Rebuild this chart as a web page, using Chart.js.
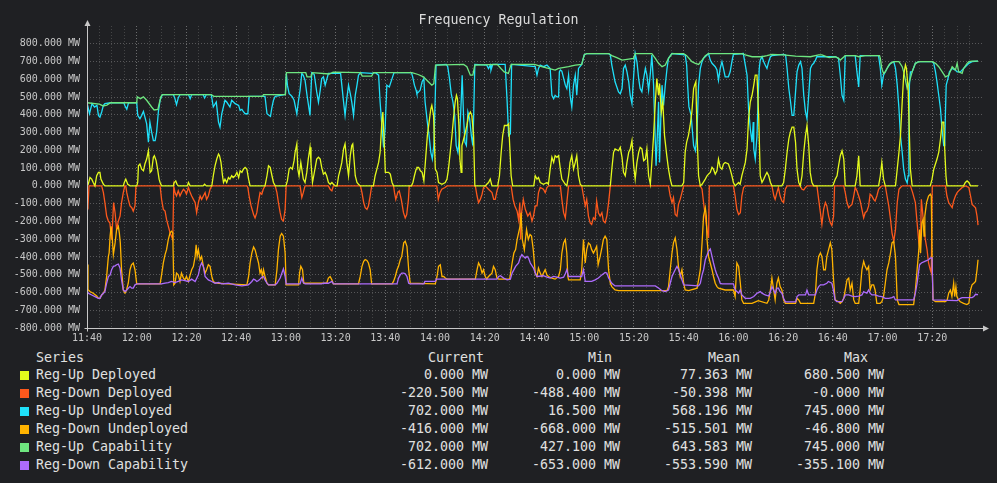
<!DOCTYPE html>
<html>
<head>
<meta charset="utf-8">
<script src="https://cdn.jsdelivr.net/npm/chart.js@4.4.1/dist/chart.umd.min.js"></script>
<style>
  html, body { margin: 0; padding: 0; background: #1f2023; }
  body { width: 997px; height: 483px; position: relative; overflow: hidden;
         font-family: "DejaVu Sans Mono", monospace; color: #e0e0e0; }
  #wrap { position: absolute; left: 0; top: 0; width: 997px; height: 346px; }
  #title { position: absolute; top: 11px; left: 0; width: 997px; text-align: center;
           font-size: 13.3px; line-height: 18px; color: #dcdcdc; }
  .cell { position: absolute; font-size: 13.3px; line-height: 18px; white-space: pre; }
  .sw { position: absolute; width: 9px; height: 9px; }
</style>
</head>
<body>
<div id="wrap"><canvas id="chart"></canvas></div>
<div id="title">Frequency Regulation</div>
<div id="legend"></div>
<script>
// x = minutes after 11:40, y = MW
const timeTicks = ['11:40','12:00','12:20','12:40','13:00','13:20','13:40','14:00','14:20',
  '14:40','15:00','15:20','15:40','16:00','16:20','16:40','17:00','17:20'];

const seriesNames = ['Reg-Up Deployed','Reg-Down Deployed','Reg-Up Undeployed',
  'Reg-Down Undeployed','Reg-Up Capability','Reg-Down Capability'];
const seriesColors = ['#e4fa1c','#fd581c','#1fe0fa','#ffb300','#6ee680','#ad6bfc'];

const statCurrent = [0, -220.5, 702, -416, 702, -612];
const statMin = [0, -488.4, 16.5, -668, 427.1, -653];
const statMean = [77.363, -50.398, 568.196, -515.501, 643.583, -553.590];
const statMax = [680.5, -0, 745, -46.8, 745, -355.1];

const upDeployed = [[0,0],[0.5,9],[1.2,47],[1.9,38],[2.5,19],[3.2,0],[3.9,57],[4.6,76],[5.2,76],[5.6,38],[6.6,9],[7.2,0],[14.6,0],[15,19],[15.6,38],[16.4,9],[17.3,0],[20,0],[20.4,19],[20.7,113],[21.3,123],[22,94],[22.7,85],[23.3,123],[24,151],[24.7,198],[25.4,76],[26,85],[26.7,161],[27.1,170],[27.8,142],[28.4,94],[29,38],[29.4,19],[30,0],[34.7,0],[35.1,19],[35.7,28],[36.2,9],[36.7,0],[40.4,0],[40.8,19],[41.5,0],[46.7,0],[47.3,9],[48,0],[50.2,0],[50.8,57],[51.5,113],[52.2,151],[52.9,179],[53.3,170],[53.9,132],[54.5,57],[54.9,19],[55.5,38],[56.2,19],[56.9,47],[57.5,38],[58.2,57],[58.8,47],[59.6,57],[60.3,76],[61,47],[61.6,85],[62.3,76],[62.9,94],[63.6,104],[64.3,94],[65,38],[65.6,0],[71.6,0],[72.4,57],[73,113],[73.7,104],[74.4,57],[75,19],[75.7,0],[80,0],[80.6,28],[81.3,94],[81.9,104],[82.6,94],[83.3,142],[83.7,189],[84.4,236],[84.8,94],[85.3,57],[86,132],[86.4,94],[87,38],[87.7,19],[88.4,76],[89,151],[89.7,217],[90.1,132],[90.7,19],[91.2,57],[91.8,104],[92.4,151],[93.1,161],[93.8,151],[94.4,104],[95.1,66],[95.8,76],[96.4,57],[97.1,19],[97.8,9],[98.5,19],[99.1,9],[99.9,0],[100.6,0],[101.2,57],[101.9,94],[102.5,132],[103.2,208],[103.8,236],[104.5,132],[105.2,57],[105.9,170],[106.5,227],[106.9,236],[107.5,132],[107.9,57],[108.6,19],[109.2,9],[109.9,0],[115.2,0],[115.9,57],[116.6,94],[117.3,132],[117.9,189],[118.6,359],[119,416],[119.6,227],[120,76],[121.3,76],[122,66],[122.7,19],[123.3,0],[130.5,0],[131.1,19],[131.7,57],[132.4,94],[132.7,104],[133.4,104],[134.1,85],[134.8,76],[135.5,28],[136,113],[136.9,283],[137.6,359],[138.3,434],[138.7,453],[139.4,397],[140.1,94],[140.8,76],[141.4,19],[142.8,9],[144.1,19],[144.8,38],[145.4,94],[146.1,189],[146.8,283],[147.4,378],[148.1,472],[148.6,510],[149,491],[149.6,340],[150,151],[150.5,76],[150.8,227],[151.5,264],[152.2,302],[152.8,340],[153.5,397],[154.2,416],[154.8,397],[155.5,283],[156,0],[160.2,0],[160.8,9],[161.5,19],[162.2,38],[162.9,0],[165.2,0],[165.9,57],[166.6,189],[167.2,283],[167.9,340],[169,340],[169.6,349],[170.3,151],[170.6,57],[171.2,0],[179.7,0],[180.3,57],[181,38],[181.6,47],[182.3,19],[183.6,9],[185,19],[185.6,9],[186.3,94],[187,161],[187.7,132],[188.3,170],[189,161],[189.7,170],[190.4,94],[191,38],[192.4,9],[193,0],[193.7,57],[194.3,132],[195,170],[195.7,94],[196.4,132],[197,170],[197.7,57],[198.4,9],[199,0],[210.5,0],[211.1,94],[211.8,189],[212.4,208],[213.8,198],[214.5,217],[215.2,161],[215.8,76],[216.5,57],[217.2,132],[217.9,189],[218.5,208],[219.2,255],[219.9,113],[220.5,38],[221.2,132],[221.9,189],[222.5,217],[223.2,208],[223.9,142],[224.6,151],[225.2,208],[225.9,57],[226.6,9],[227.2,132],[227.9,283],[228.6,472],[229.2,604],[229.9,510],[230.3,576],[231,416],[231.6,472],[232.3,283],[233.2,170],[233.9,94],[234.6,38],[235.3,0],[239.3,0],[240,19],[240.6,189],[241.2,246],[241.9,283],[242.6,340],[243.3,416],[244,548],[244.4,567],[244.9,586],[245.4,283],[246,57],[246.7,0],[247.4,9],[248.7,38],[249.4,57],[250,66],[250.7,76],[251.4,104],[252,94],[252.7,66],[253.4,85],[254,151],[254.7,104],[255.4,94],[256,123],[256.7,132],[258,123],[258.7,94],[259.4,57],[260,19],[260.7,0],[262.1,19],[262.7,9],[263.4,57],[264.1,94],[264.8,132],[265.5,208],[266.1,378],[266.8,472],[267.5,510],[268.2,567],[268.8,623],[269.5,623],[270.2,378],[270.8,57],[271.5,19],[272.2,38],[272.8,57],[273.5,76],[274.2,57],[274.9,19],[275.5,0],[279.5,0],[280.2,19],[280.9,94],[281.6,189],[282.3,264],[282.9,302],[283.6,331],[284.3,331],[285,246],[285.6,94],[286.3,19],[286.9,0],[287.6,57],[288.3,189],[289,283],[289.6,340],[290.3,227],[290.9,76],[291.6,19],[292.3,0],[300,0],[301,38],[301.7,57],[302.3,113],[303,170],[303.7,198],[304.4,151],[305,0],[309,0],[309.7,57],[310.4,170],[311,0],[318.4,0],[319.1,57],[319.7,132],[320.4,38],[321.1,0],[325.2,0],[325.9,94],[326.6,189],[327.2,283],[327.9,472],[328.5,623],[329.2,680.5],[329.6,661],[330.3,548],[330.8,283],[331.2,94],[331.9,0],[339.2,0],[339.9,38],[340.6,94],[341.9,151],[342.6,189],[343.3,264],[344,359],[344.6,359],[345,208],[345.5,57],[345.9,0],[352.6,0],[353.3,19],[354,28],[354.7,19],[355.4,0],[358.4,0]];

const downDeployed = [[0,-94],[0.4,-113],[0.8,0],[5.9,0],[6.6,-38],[7.2,-94],[7.9,-170],[8.6,-198],[9.2,-208],[9.9,-302],[10.3,-208],[10.7,-94],[11.3,-151],[11.9,-246],[12.6,-198],[13.3,-170],[13.9,-94],[14.6,-38],[15.2,0],[15.6,0],[16,-38],[16.6,-76],[17.3,-113],[18,-123],[18.6,-142],[19.3,-113],[19.7,0],[29.4,0],[30,-76],[30.7,-132],[31.4,-142],[32,-189],[32.7,-227],[33.4,-264],[34,-283],[34.5,-302],[34.9,0],[35.4,-38],[36,-57],[36.7,-28],[37.4,-57],[38,-38],[38.8,-19],[39.4,-28],[40,-47],[40.8,-9],[41.5,-38],[42.1,-57],[42.8,-76],[43.5,-94],[44.1,-151],[44.8,-94],[45.5,-57],[46.1,-76],[46.8,-57],[47.5,-38],[48.1,-76],[48.8,-57],[49.5,-19],[50.2,0],[64.3,0],[64.7,-9],[65.2,-57],[66,-113],[67,-161],[67.6,-180],[68.3,-151],[68.9,-94],[69.6,-38],[70.3,-47],[70.9,-19],[71.6,0],[75.7,0],[76.4,-38],[77,-94],[77.7,-151],[78.3,-189],[79,-198],[79.7,-132],[80.1,0],[85.7,0],[86.4,-66],[87,-38],[87.7,0],[97.1,0],[97.8,-19],[98.5,-28],[99.1,0],[110,0],[110.6,-38],[111.3,-94],[111.9,-123],[112.6,-132],[113.2,-113],[113.9,-57],[114.5,0],[123.3,0],[123.7,-38],[124.2,-76],[125,-38],[125.6,-28],[126.4,-76],[127.3,-151],[128,-180],[128.6,-161],[129.3,-76],[129.6,0],[140.7,0],[141.3,-76],[142,-38],[142.7,-19],[144,-9],[144.8,0],[156.2,0],[156.9,-57],[157.5,-94],[158.2,-76],[158.9,-47],[159.5,-9],[160.2,0],[161.5,-19],[162.9,-38],[163.6,-76],[164.2,-76],[164.9,-28],[165.6,0],[170.6,0],[171.4,-76],[172.1,-113],[173,-142],[173.6,-189],[174.1,-94],[174.4,-302],[174.8,-151],[175.5,-76],[176.3,-132],[177.3,-170],[178.2,-151],[179,-198],[179.6,-170],[180.3,-113],[181,-113],[181.6,-38],[182.3,-9],[183.6,-19],[184.3,-38],[185,-9],[185.6,0],[190.4,0],[191,-76],[191.7,-151],[192.4,-180],[193,-94],[193.7,0],[199,0],[199.7,-57],[200.4,-113],[201,-76],[201.7,-170],[202.4,-208],[203,-217],[203.7,-179],[204.4,-189],[205,-85],[205.7,-151],[206.4,-170],[207.1,-151],[207.7,-198],[208.4,-208],[209.1,-170],[209.8,-94],[210.5,0],[233.9,0],[234.6,-57],[235.3,-94],[235.9,-66],[236.6,-161],[237.3,-170],[237.9,-104],[238.6,-76],[239.3,-38],[240,0],[246.7,0],[247.4,-19],[248,-94],[248.7,-170],[249.4,-246],[250,-293],[250.3,0],[260,0],[260.7,-57],[261.4,-132],[262.1,-161],[262.8,-151],[263.4,-57],[264.1,-9],[264.8,0],[275.5,0],[276.3,-57],[276.8,-76],[277.5,-38],[278.1,-9],[278.8,-57],[279.5,-85],[280.2,-94],[280.9,-19],[281.6,0],[286.9,0],[287.6,-19],[288.3,-23],[289,-9],[289.6,0],[293.6,0],[294.3,-76],[295,-151],[295.6,-217],[296.3,-132],[297,-94],[297.6,-113],[298.3,-170],[299,-208],[299.6,-223],[300.3,-170],[300.7,0],[304.4,0],[305,-38],[305.7,-94],[306.4,-123],[307,-113],[307.7,-104],[308.4,-57],[309,-9],[309.7,-28],[310.4,-57],[311,-85],[311.7,-132],[312.4,-180],[313,-151],[313.7,-142],[314.4,-113],[315,-47],[315.7,-57],[316.4,-76],[317,-85],[317.7,-57],[318.4,-19],[319,-9],[319.7,0],[321.1,0],[321.8,-57],[322.5,-113],[323.2,-189],[323.8,-264],[324.5,-312],[325.2,-246],[325.9,-94],[326.6,-19],[327.2,-9],[327.9,0],[331.2,0],[332.1,-38],[333.2,-94],[333.9,-208],[334.6,-321],[335.2,-359],[335.6,-76],[336,-132],[336.6,-227],[337.2,-302],[337.9,-359],[338.5,-434],[339.2,-472],[339.6,-488.4],[340,0],[345.3,0],[345.9,-57],[346.6,-94],[348,-123],[348.6,-85],[349.3,-57],[350,-38],[350.6,-28],[351.3,-19],[352,-9],[353.3,0],[354.7,-9],[355.4,-57],[356,-104],[356.7,-113],[357.4,-123],[358,-170],[358.4,-220.5]];

const upUndeployed = [[0,468],[1,406],[2,463],[3,444],[4,453],[4.6,397],[5.2,387],[5.9,416],[6.6,453],[7.2,463],[9.5,468],[14.8,468],[15.3,450],[16,431],[16.7,468],[20,468],[20.4,397],[21.3,378],[22,397],[22.7,419],[23.3,387],[24,349],[24.7,246],[25.3,359],[26,302],[26.7,255],[27.4,255],[28,302],[28.7,416],[29.4,482],[30.3,514],[34.7,514],[35.3,495],[36,457],[36.7,495],[37.4,514],[40.8,514],[41.5,491],[42.1,514],[46.7,514],[47.3,495],[48,514],[50,514],[50.8,444],[52,472],[52.9,359],[53.5,331],[54.2,406],[55.5,482],[56.2,472],[57.5,444],[58.2,482],[59.6,463],[61,453],[61.6,425],[62.3,431],[63,416],[63.6,406],[64.7,406],[65.2,504],[71.6,504],[72.4,406],[73.8,391],[74.4,444],[75,482],[75.7,504],[79.8,514],[80.2,633],[80.6,567],[81.3,519],[82,510],[82.6,501],[83.3,482],[84.4,406],[85,472],[85.7,538],[86.4,633],[87,623],[87.7,595],[88.5,510],[89.7,397],[90.4,637],[91.4,627],[92.4,529],[93.1,472],[93.8,538],[94.4,604],[95.1,614],[95.8,567],[97.1,633],[102,633],[102.5,567],[103.2,472],[103.8,397],[104.5,491],[105.2,567],[105.9,519],[106.5,472],[107.2,397],[107.9,510],[108.6,567],[109.2,623],[110,637],[114.5,633],[116,637],[117.3,623],[117.9,472],[118.6,340],[119.3,217],[119.9,321],[120.6,567],[121.6,557],[122.7,604],[123.5,638],[130.5,638],[131,614],[131.7,567],[132.4,538],[132.7,519],[133.4,529],[134,538],[134.8,586],[135.5,604],[136,472],[136.9,359],[137.6,283],[138.3,189],[138.9,151],[139.5,227],[140.1,510],[140.4,680],[144.5,684],[145.1,671],[145.8,604],[146.5,519],[147.2,472],[147.9,397],[148.5,227],[149.2,189],[149.9,283],[150.5,472],[150.9,623],[151.5,378],[152,246],[152.6,227],[153.2,416],[153.9,378],[154.6,283],[155.2,227],[155.5,378],[156,684],[160.8,680],[161.5,661],[162.2,680],[162.5,652],[163.2,684],[168.2,684],[169,472],[169.6,283],[170.3,293],[170.8,684],[180.3,671],[181,623],[181.6,661],[182.3,680],[183.6,671],[185,680],[186.3,661],[187,510],[187.7,491],[188.3,510],[189,501],[189.7,501],[190,642],[190.4,652],[191,646],[192.4,567],[193,548],[193.7,623],[194.3,510],[195,444],[195.7,567],[196.4,623],[197,510],[197.7,661],[199,684],[200,737],[201,745],[209.8,745],[210.5,737],[211.1,680],[212.4,586],[213.8,529],[214.5,519],[215.2,548],[215.8,661],[216.5,680],[217.2,642],[217.9,586],[218.5,510],[219.2,463],[219.9,623],[220.5,745],[221.2,699],[221.9,604],[222.5,548],[223.2,529],[223.9,604],[224.6,661],[225.2,623],[225.9,538],[226.6,633],[227.2,737],[227.9,567],[228.3,378],[228.9,113],[229.4,283],[229.9,472],[230.3,132],[230.8,378],[231.3,567],[231.9,453],[232.6,567],[233.3,661],[233.9,718],[235.3,745],[240.6,737],[241.2,680],[241.6,567],[242.1,446],[243,397],[244,227],[244.7,198],[245.3,283],[246,567],[246.7,661],[247.4,699],[248,718],[249.4,737],[250,745],[250.7,708],[251.4,690],[252.7,671],[253.4,652],[254,595],[254.7,661],[255.4,699],[256,661],[256.7,614],[258,614],[258.7,642],[259.4,699],[260,740],[264,745],[264.8,680],[265.5,623],[266.1,434],[266.8,321],[267.5,246],[268,359],[268.2,208],[268.8,151],[269.5,283],[269.9,472],[270.4,661],[270.8,708],[271.5,727],[272.2,699],[272.8,680],[273.5,661],[274.2,699],[274.9,727],[275.5,733],[280,740],[281,737],[281.6,661],[282.3,548],[283,472],[283.6,397],[284.3,397],[285,529],[285.6,642],[286.3,680],[287,699],[287.6,661],[288.3,510],[289,416],[289.6,378],[290.3,510],[291,661],[291.6,680],[292.3,690],[293,708],[293.6,727],[301,727],[302.3,718],[303,623],[303.7,510],[304.4,482],[305,733],[309,733],[309.7,642],[310.4,557],[311,733],[318.4,733],[319.1,661],[319.7,567],[320.4,623],[321.8,661],[323.2,690],[324.5,699],[325.2,661],[325.9,567],[326.6,434],[327.2,283],[327.9,189],[328.5,94],[329.2,38],[329.9,16.5],[330.3,57],[330.6,283],[330.8,567],[331.2,642],[331.9,642],[333.2,690],[334.6,699],[340,699],[340.6,690],[341.3,642],[341.9,586],[342.6,510],[343.3,434],[343.9,321],[344.6,227],[345,227],[345.3,416],[345.6,567],[346.3,604],[346.9,642],[348,661],[349.3,652],[350,642],[351.3,642],[352.6,661],[354,680],[354.7,690],[356,699],[358.4,702]];

const downUndeployed = [[0,-442],[0.4,-584],[1.2,-595],[2.5,-604],[3.9,-620],[4.6,-633],[5.2,-633],[5.9,-614],[6.6,-604],[7.2,-586],[7.9,-510],[8.6,-397],[8.9,-378],[9.3,-283],[9.7,-227],[10.2,-302],[10.6,-387],[11.3,-321],[11.9,-246],[12.6,-227],[13,-264],[13.4,-321],[13.9,-472],[14.6,-586],[15.3,-604],[15.9,-586],[16.6,-548],[17.3,-472],[17.9,-444],[18.6,-434],[19.3,-472],[20,-552],[29.4,-552],[30,-501],[30.7,-434],[31.4,-387],[32,-359],[32.7,-302],[33.4,-264],[34,-255],[34.5,-264],[34.9,-557],[35.4,-548],[36,-491],[36.7,-501],[37.4,-538],[38,-491],[38.8,-519],[39.4,-529],[40,-510],[40.8,-538],[41.5,-501],[42.1,-472],[42.8,-453],[43.5,-397],[43.9,-331],[44.3,-397],[44.8,-359],[45.5,-416],[46.1,-397],[46.8,-453],[47.5,-491],[48.1,-472],[48.8,-444],[49.5,-453],[50.2,-510],[50.8,-538],[51.5,-544],[52.9,-548],[56.9,-552],[64.3,-557],[65,-510],[65.6,-434],[66.3,-378],[67,-344],[67.6,-359],[68.3,-397],[69,-434],[69.6,-491],[70.1,-472],[70.6,-510],[71,-472],[71.6,-510],[72.4,-548],[73,-557],[75.7,-557],[76.4,-472],[77,-359],[77.7,-283],[78.3,-268],[79,-283],[79.7,-378],[80.1,-557],[85.1,-557],[85.5,-491],[86,-453],[86.7,-472],[87.2,-548],[96.4,-548],[97.1,-519],[97.8,-510],[98.5,-529],[99.1,-552],[109.2,-552],[109.9,-510],[110.6,-453],[111.3,-425],[111.9,-415],[112.6,-420],[113.2,-434],[113.9,-472],[114.5,-552],[122.7,-552],[123.3,-538],[124,-510],[124.7,-472],[125.3,-453],[126,-416],[126.6,-397],[127.4,-321],[128,-312],[128.7,-340],[129.4,-472],[130,-548],[140.1,-552],[140.8,-510],[141.4,-453],[142.1,-444],[142.8,-510],[143.5,-510],[144.1,-519],[144.8,-525],[156.2,-525],[156.9,-472],[157.5,-434],[158.2,-453],[158.9,-491],[159.5,-472],[160.2,-510],[160.8,-525],[161.5,-510],[162.9,-491],[163.5,-453],[164.2,-472],[164.9,-519],[165.6,-525],[170,-525],[171,-434],[171.7,-378],[172.4,-359],[173,-302],[173.6,-264],[174.2,-227],[174.6,-151],[175.1,-302],[175.9,-359],[176.8,-246],[177.5,-302],[178.2,-274],[178.8,-283],[179.5,-359],[180.3,-491],[181,-510],[181.6,-463],[182.3,-491],[183,-510],[183.6,-491],[184.3,-472],[185,-501],[185.6,-510],[187,-519],[188.3,-525],[189.7,-510],[190.4,-472],[191,-378],[191.7,-321],[192.4,-302],[193,-378],[193.4,-510],[193.7,-529],[198.4,-529],[199,-472],[199.7,-302],[200.4,-434],[201,-359],[201.7,-321],[202.4,-331],[203,-359],[203.7,-378],[204.4,-359],[205,-340],[205.6,-444],[206.4,-397],[207.1,-349],[207.7,-302],[208.4,-283],[209.1,-302],[209.8,-472],[210.5,-548],[211.1,-567],[212.4,-586],[213.8,-590],[233.3,-590],[233.9,-567],[234.6,-472],[235.3,-378],[235.9,-321],[236.6,-293],[237.3,-359],[237.9,-453],[238.6,-510],[239.3,-472],[240,-548],[240.6,-586],[242,-590],[245.4,-576],[246,-529],[246.7,-472],[247.4,-321],[248,-170],[248.7,-123],[249.1,-170],[249.4,-302],[250,-397],[250.7,-434],[251.4,-472],[252,-510],[252.7,-548],[253.4,-567],[254,-576],[256.7,-586],[260,-586],[260.7,-623],[261.4,-434],[262.1,-453],[262.8,-548],[263.4,-642],[264.1,-661],[267.5,-661],[270,-646],[273.5,-661],[274.2,-642],[274.9,-586],[275.5,-519],[276.2,-586],[276.8,-642],[277.5,-548],[278.1,-519],[278.8,-567],[279.5,-586],[280.2,-642],[280.9,-661],[285,-661],[285.6,-633],[286.3,-642],[287,-661],[292.3,-661],[293,-604],[293.6,-472],[294.3,-397],[295,-378],[295.6,-397],[296.3,-472],[297,-472],[297.6,-397],[298.3,-359],[299,-321],[299.6,-359],[300.2,-510],[300.9,-642],[302.3,-652],[303,-661],[303.7,-652],[304.4,-633],[305,-586],[305.7,-529],[306.4,-519],[307,-586],[307.7,-548],[308.4,-642],[309,-661],[310.4,-661],[311,-586],[311.7,-472],[312.4,-425],[313,-453],[313.7,-472],[314.4,-453],[315,-586],[315.7,-557],[316.4,-557],[317,-586],[317.7,-661],[319,-661],[319.7,-652],[320.4,-623],[321.1,-548],[321.8,-472],[322.5,-434],[323.2,-378],[323.8,-321],[324.5,-312],[325.2,-397],[325.9,-642],[326.6,-668],[332.5,-668],[333.2,-586],[333.9,-472],[334.6,-359],[334.9,-246],[335.3,-378],[335.8,-208],[336.3,-189],[336.7,-283],[337,-170],[337.7,-94],[338.5,-57],[339.2,-46.8],[339.6,-57],[340,-472],[340.3,-642],[341.3,-652],[345.3,-652],[346,-642],[346.6,-604],[347.3,-586],[347.9,-623],[348.6,-548],[349,-623],[349.5,-567],[349.9,-623],[350.6,-642],[351.3,-652],[352.6,-661],[353.9,-668],[354.7,-661],[355.4,-586],[356,-557],[356.7,-548],[357.4,-538],[358,-472],[358.4,-416]];

const upCapability = [[0,468],[5,460],[6.5,450],[8,455],[9.5,468],[20,468],[20.2,501],[21.5,491],[22.7,501],[24,482],[26,444],[27,427.1],[28.5,431],[29.7,501],[30.3,514],[50,514],[51,504],[70.6,504],[71,514],[79.8,514],[80.2,637],[88,637],[88.5,614],[90,614],[90.7,637],[97.5,630],[99,640],[110,637],[110.7,618],[114.5,618],[115.2,637],[130.7,638],[133.2,627],[135.3,614],[137.3,586],[138.7,567],[139.5,576],[140.2,680],[151.5,684],[152.8,671],[154.2,623],[155.2,623],[156,680],[165,684],[166.5,661],[167.8,642],[169.5,633],[170.6,684],[180,684],[182.9,671],[185.6,661],[188.3,652],[189.7,661],[193.7,671],[196.4,680],[199,684],[200,737],[201,745],[209.8,745],[211.1,733],[213.1,722],[215.2,708],[217.2,712],[219.8,718],[220.5,745],[227.2,745],[228.6,718],[229.9,690],[231.3,671],[232.6,680],[233.9,718],[235.3,745],[240,745],[241.2,733],[243.3,699],[244.7,690],[246,684],[247.4,708],[248.7,733],[250,745],[263.5,745],[264.8,737],[267.5,727],[271.5,727],[273.5,733],[275.5,740],[280,737],[285,730],[291,727],[294.3,737],[295.6,737],[298.5,722],[301,727],[302.3,718],[303,708],[305,733],[309,733],[310.4,727],[313,733],[318.8,733],[319.1,718],[319.7,661],[320.4,633],[321.1,642],[321.8,661],[322.5,680],[323.2,690],[324.5,699],[326.6,699],[327.9,671],[328.5,642],[329.2,595],[329.9,548],[330.6,576],[331.9,642],[333.2,690],[334.6,699],[340,699],[341.3,690],[342.6,671],[344,642],[345.3,614],[346.6,623],[348,671],[349.3,652],[350,690],[350.6,642],[352,633],[352.6,661],[354,690],[354.7,699],[356,702],[358.4,702]];

const downCapability = [[0,-586],[0.5,-604],[1.9,-614],[3.2,-623],[4.6,-633],[5.2,-633],[5.9,-614],[6.6,-604],[7.2,-595],[7.9,-548],[8.6,-510],[9.3,-501],[9.9,-472],[10.6,-453],[11.3,-450],[11.9,-444],[12.6,-440],[13.3,-463],[13.9,-529],[14.6,-586],[15.3,-595],[16,-586],[16.6,-576],[17.3,-567],[18,-576],[18.6,-576],[19.3,-557],[20,-552],[30,-552],[31.4,-548],[32.7,-544],[34,-538],[35.4,-544],[36.7,-538],[38,-529],[39.4,-533],[40.8,-538],[42.1,-525],[43.5,-538],[44.8,-501],[45.5,-453],[46.1,-434],[46.8,-453],[47.5,-510],[48.8,-529],[50.2,-538],[51.5,-548],[52.9,-544],[54.2,-552],[56.9,-548],[59.6,-557],[62.3,-563],[64.9,-557],[65.6,-548],[66.3,-538],[67,-525],[67.6,-529],[68.3,-538],[69,-533],[69.6,-525],[70.3,-514],[71,-510],[71.6,-529],[72.4,-548],[73,-557],[75.7,-557],[76.4,-548],[77.7,-519],[78.3,-495],[79,-467],[79.7,-510],[80.1,-552],[85.7,-552],[86.4,-519],[87,-544],[87.7,-552],[94.4,-552],[95.1,-548],[97.1,-548],[98.5,-538],[99.1,-552],[124.7,-552],[125.3,-519],[126,-501],[126.6,-491],[127.4,-491],[128,-495],[128.7,-510],[129.4,-548],[130,-552],[135.5,-552],[135.9,-538],[140.1,-538],[140.5,-525],[164.9,-525],[165.6,-510],[166.3,-506],[167.6,-519],[169,-529],[170.3,-525],[171,-491],[172.4,-453],[173.6,-434],[174.2,-406],[174.9,-387],[175.6,-397],[176.3,-406],[177,-397],[177.6,-406],[178.3,-434],[179.6,-463],[180.3,-491],[181,-510],[183.6,-506],[185,-514],[186.3,-519],[187.7,-510],[189,-514],[190.4,-519],[191.7,-514],[192.4,-495],[193,-472],[193.7,-510],[199,-510],[199.7,-472],[200.4,-538],[203,-538],[204.4,-529],[205.7,-519],[207.1,-501],[208.4,-487],[209.1,-491],[209.8,-519],[211.1,-548],[212.4,-563],[228.6,-563],[230,-576],[231.3,-590],[232.6,-595],[233.9,-586],[234.6,-548],[235.3,-510],[236.6,-472],[237.3,-453],[238,-472],[239.3,-529],[240,-557],[246,-563],[246.7,-548],[247.4,-501],[248,-472],[248.7,-416],[250,-368],[250.7,-355.1],[251.4,-397],[252,-434],[252.7,-472],[253.4,-501],[254,-519],[254.7,-548],[255.4,-552],[260,-552],[260.7,-586],[261.4,-595],[262.1,-604],[262.8,-586],[263.4,-614],[264.8,-633],[266.8,-633],[268.2,-623],[269.5,-604],[270.8,-595],[271.5,-604],[272.8,-614],[274.2,-620],[274.9,-595],[275.5,-567],[276.2,-586],[276.8,-604],[277.5,-576],[278.1,-576],[278.8,-595],[279.5,-604],[280.2,-633],[280.9,-653],[285,-653],[285.6,-623],[286.3,-614],[289,-614],[289.6,-586],[290.3,-614],[293,-614],[293.6,-586],[294.3,-567],[295,-557],[296.3,-557],[297.6,-548],[298.2,-538],[299.6,-548],[300.2,-586],[300.9,-642],[301.6,-652],[303.7,-652],[304.4,-633],[305,-614],[306.4,-614],[307.7,-620],[309,-623],[310.4,-620],[311.7,-614],[312.4,-595],[313,-600],[313.7,-604],[314.4,-586],[315,-604],[315.7,-614],[317,-614],[318.4,-620],[319.7,-623],[321.1,-633],[322.5,-633],[323.8,-629],[324.5,-623],[325.2,-642],[332.5,-642],[333.2,-604],[333.9,-548],[334.4,-491],[334.9,-444],[335.6,-434],[337,-425],[338.5,-416],[339.2,-406],[339.9,-406],[340.3,-642],[350,-646],[351.3,-633],[352,-629],[356,-629],[356.7,-623],[357.4,-610],[358.4,-612]];

const seriesData = [upDeployed, downDeployed, upUndeployed, downUndeployed, upCapability, downCapability];
const drawOrder = [1, 4, 5, 3, 2, 0]; // lower = drawn on top

Chart.defaults.font.family = '"DejaVu Sans Mono", monospace';
Chart.defaults.font.size = 10;
Chart.defaults.color = '#c8c8c8';

// axis lines with arrow heads, like the original graph
const axisArrows = {
  id: 'axisArrows',
  afterDatasetsDraw(chart) {
    const { ctx, chartArea: a } = chart;
    const x0 = Math.round(a.left) + 0.5, y0 = Math.round(a.bottom) + 0.5;
    ctx.save();
    ctx.strokeStyle = '#c8c8c8';
    ctx.fillStyle = '#c8c8c8';
    ctx.lineWidth = 1;
    ctx.beginPath();
    ctx.moveTo(x0 - 3, y0); ctx.lineTo(a.right + 2, y0);
    ctx.moveTo(x0, y0 + 3); ctx.lineTo(x0, a.top - 1);
    ctx.stroke();
    ctx.beginPath();
    ctx.moveTo(x0, a.top - 6); ctx.lineTo(x0 - 3, a.top); ctx.lineTo(x0 + 3, a.top);
    ctx.closePath(); ctx.fill();
    ctx.beginPath();
    ctx.moveTo(a.right + 7, y0); ctx.lineTo(a.right + 1, y0 - 3); ctx.lineTo(a.right + 1, y0 + 3);
    ctx.closePath(); ctx.fill();
    ctx.restore();
  }
};

new Chart(document.getElementById('chart'), {
  type: 'line',
  data: {
    datasets: seriesData.map((d, i) => ({
      label: seriesNames[i],
      data: d,
      borderColor: seriesColors[i],
      borderWidth: 1.3,
      pointRadius: 0,
      fill: false,
      tension: 0,
      order: drawOrder[i]
    }))
  },
  options: {
    responsive: true,
    maintainAspectRatio: false,
    animation: false,
    events: [],
    layout: { padding: { left: 0, right: 15, top: 26, bottom: 0 } },
    plugins: { legend: { display: false }, tooltip: { enabled: false }, title: { display: false } },
    scales: {
      x: {
        type: 'linear',
        min: 0,
        max: 360,
        afterFit: (s) => { s.height = 18; },
        border: { display: false, dash: [1, 2] },
        grid: {
          drawTicks: false,
          lineWidth: 1,
          color: (c) => {
            const v = c.tick.value;
            if (v === 0 || v === 360) return 'rgba(0,0,0,0)';
            return v % 20 === 0 ? 'rgba(150,150,150,0.65)' : 'rgba(105,105,105,0.5)';
          }
        },
        ticks: {
          stepSize: 5,
          autoSkip: false,
          maxRotation: 0,
          padding: 4,
          color: '#c8c8c8',
          callback: (v) => (v % 20 === 0 && v <= 340) ? timeTicks[v / 20] : ''
        }
      },
      y: {
        min: -800,
        max: 900,
        afterFit: (s) => { s.width = 87; },
        border: { display: false, dash: [1, 2] },
        grid: {
          drawTicks: false,
          lineWidth: 1,
          color: (c) => {
            const v = c.tick.value;
            if (v === -800 || v > 800) return 'rgba(0,0,0,0)';
            return 'rgba(125,125,125,0.6)';
          }
        },
        ticks: {
          stepSize: 100,
          padding: 7,
          color: '#c8c8c8',
          callback: (v) => v > 800 ? '' : v.toFixed(3) + ' MW'
        }
      }
    }
  },
  plugins: [axisArrows]
});

// legend table under the graph
function fmt(v) {
  return (Object.is(v, -0) ? '-' : '') + v.toFixed(3) + ' MW';
}
const legend = document.getElementById('legend');
function addCell(text, top, right, left) {
  const d = document.createElement('div');
  d.className = 'cell';
  d.textContent = text;
  d.style.top = top + 'px';
  if (left !== undefined) d.style.left = left + 'px';
  else d.style.right = (997 - right) + 'px';
  legend.appendChild(d);
}
const headTop = 349;
addCell('Series', headTop, 0, 36);
addCell('Current', headTop, 484);
addCell('Min', headTop, 612);
addCell('Mean', headTop, 740);
addCell('Max', headTop, 868);
seriesNames.forEach((name, i) => {
  const top = 366 + i * 18;
  const sw = document.createElement('div');
  sw.className = 'sw';
  sw.style.left = '20px';
  sw.style.top = (top + 5) + 'px';
  sw.style.background = seriesColors[i];
  legend.appendChild(sw);
  addCell(name, top, 0, 36);
  addCell(fmt(statCurrent[i]), top, 488);
  addCell(fmt(statMin[i]), top, 620);
  addCell(fmt(statMean[i]), top, 752);
  addCell(fmt(statMax[i]), top, 884);
});
</script>
</body>
</html>
